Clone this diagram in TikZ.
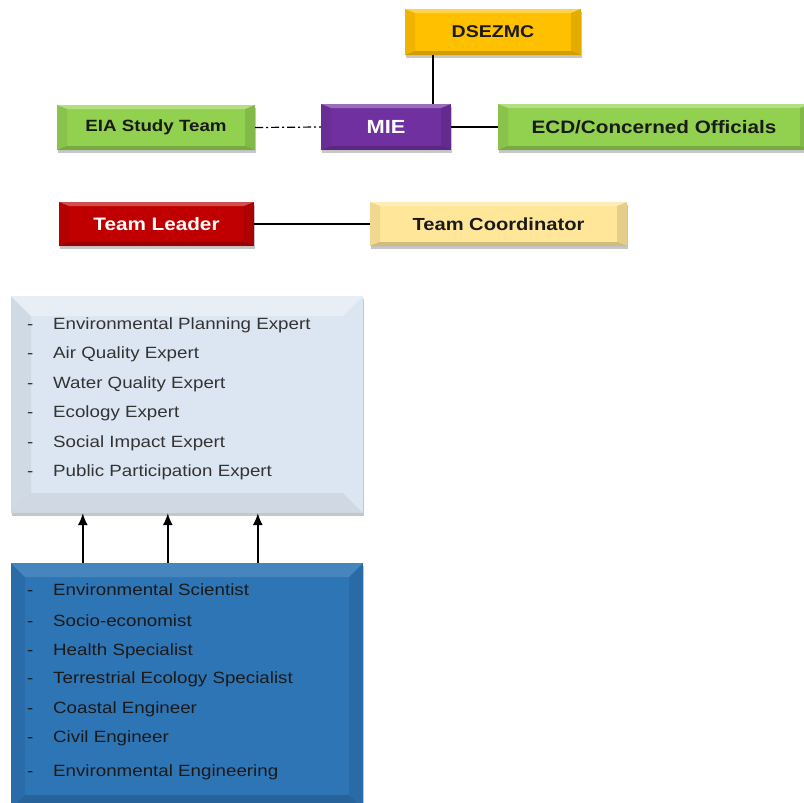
\documentclass[tikz,border=0pt]{standalone}
\usepackage{fontspec}
\setmainfont{Liberation Sans}[FakeStretch=1.15]
\usetikzlibrary{shadows,arrows.meta}
\definecolor{cGold}{HTML}{FFC000}
\definecolor{cGreen}{HTML}{92D050}
\definecolor{cPurple}{HTML}{7030A0}
\definecolor{cRed}{HTML}{C00000}
\definecolor{cCream}{HTML}{FFE699}
\definecolor{cLight}{HTML}{DCE6F2}
\definecolor{cDark}{HTML}{2E75B6}
\definecolor{cTxt}{HTML}{1A1A1A}
\definecolor{cGrayTxt}{HTML}{333333}
\tikzset{
  bev/.style n args={6}{path picture={
    \fill[white,opacity=#3] (path picture bounding box.north west) -- (path picture bounding box.north east)
      -- ([xshift=-#1,yshift=-#2]path picture bounding box.north east) -- ([xshift=#1,yshift=-#2]path picture bounding box.north west) -- cycle;
    \fill[black,opacity=#4] (path picture bounding box.north west) -- ([xshift=#1,yshift=-#2]path picture bounding box.north west)
      -- ([xshift=#1,yshift=#2]path picture bounding box.south west) -- (path picture bounding box.south west) -- cycle;
    \fill[black,opacity=#5] (path picture bounding box.north east) -- ([xshift=-#1,yshift=-#2]path picture bounding box.north east)
      -- ([xshift=-#1,yshift=#2]path picture bounding box.south east) -- (path picture bounding box.south east) -- cycle;
    \fill[black,opacity=#6] (path picture bounding box.south west) -- (path picture bounding box.south east)
      -- ([xshift=-#1,yshift=#2]path picture bounding box.south east) -- ([xshift=#1,yshift=#2]path picture bounding box.south west) -- cycle;
  }},
  box/.style={inner sep=0pt, font=\bfseries, text=cTxt,
    drop shadow={shadow xshift=1pt, shadow yshift=-3pt, opacity=.22, fill=black},
    bev={10pt}{4pt}{.30}{.06}{.10}{.18}},
  bigbox/.style={inner sep=0pt, minimum width=352,
    drop shadow={shadow xshift=1pt, shadow yshift=-3pt, opacity=.22, fill=black}},
  item/.style={anchor=base west, inner sep=0pt, font=\fontsize{16.3}{19}\selectfont},
  conn/.style={line width=1.2pt, black},
  arr/.style={line width=1.5pt, black, -{Latex[length=12pt,width=10pt]}}
}
\begin{document}
\begin{tikzpicture}[x=1pt,y=1pt]
\useasboundingbox (0,0) rectangle (804,-803);

% top boxes
\node[box, fill=cGold, minimum width=176, minimum height=46, font=\fontsize{17}{20}\bfseries] (dse) at (493,-32) {DSEZMC};
\node[box, fill=cGreen, minimum width=198, minimum height=45, font=\fontsize{16.3}{19}\bfseries] (eia) at (156,-127.5) {EIA Study Team};
\node[box, fill=cPurple, minimum width=130, minimum height=46, text=white, font=\fontsize{19}{22}\bfseries] (mie) at (386,-127) {MIE};
\node[box, fill=cGreen, minimum width=312, minimum height=46, font=\fontsize{18}{21}\bfseries] (ecd) at (654,-127) {ECD/Concerned Officials};
\node[box, fill=cRed, minimum width=195, minimum height=44, text=white, font=\fontsize{18}{21}\bfseries] (tl) at (156.5,-224) {Team Leader};
\node[box, fill=cCream, minimum width=257, minimum height=44, font=\fontsize{17.5}{21}\bfseries] (tc) at (498.5,-224) {Team Coordinator};

% connectors
\draw[conn] (dse.south -| 433,0) -- (mie.north -| 433,0);
\draw[line width=1.2pt, dash pattern=on 8pt off 3pt on 2pt off 3pt] (eia.east) -- (mie.west);
\draw[conn] (mie.east) -- (ecd.west);
\draw[conn] (tl.east) -- (tc.west);

% big boxes
\node[bigbox, fill=cLight, minimum height=217, bev={20pt}{20pt}{.35}{.05}{-0}{.06}] (exp) at (187,-404.5) {};
\node[bigbox, fill=cDark, minimum height=246, bev={14pt}{14pt}{.12}{.07}{.08}{.15}] (spe) at (187,-686) {};

\begin{scope}[text=cGrayTxt]
\node[item] (l1) at (27,-329) {\makebox[26pt][l]{-}Environmental Planning Expert};
\node[item] (l2) at (27,-358.5) {\makebox[26pt][l]{-}Air Quality Expert};
\node[item] (l3) at (27,-388) {\makebox[26pt][l]{-}Water Quality Expert};
\node[item] (l4) at (27,-417.5) {\makebox[26pt][l]{-}Ecology Expert};
\node[item] (l5) at (27,-447) {\makebox[26pt][l]{-}Social Impact Expert};
\node[item] (l6) at (27,-476.5) {\makebox[26pt][l]{-}Public Participation Expert};
\end{scope}
\begin{scope}[text=cTxt]
\node[item] (m1) at (27,-595) {\makebox[26pt][l]{-}Environmental Scientist};
\node[item] (m2) at (27,-626) {\makebox[26pt][l]{-}Socio-economist};
\node[item] (m3) at (27,-655) {\makebox[26pt][l]{-}Health Specialist};
\node[item] (m4) at (27,-683.5) {\makebox[26pt][l]{-}Terrestrial Ecology Specialist};
\node[item] (m5) at (27,-713) {\makebox[26pt][l]{-}Coastal Engineer};
\node[item] (m6) at (27,-742.5) {\makebox[26pt][l]{-}Civil Engineer};
\node[item] (m7) at (27,-776) {\makebox[26pt][l]{-}Environmental Engineering};
\end{scope}

% arrows
\draw[arr] ([xshift=72pt]spe.north west) -- ([xshift=72pt]exp.south west);
\draw[arr] ([xshift=157pt]spe.north west) -- ([xshift=157pt]exp.south west);
\draw[arr] ([xshift=247pt]spe.north west) -- ([xshift=247pt]exp.south west);
\end{tikzpicture}
\end{document}
